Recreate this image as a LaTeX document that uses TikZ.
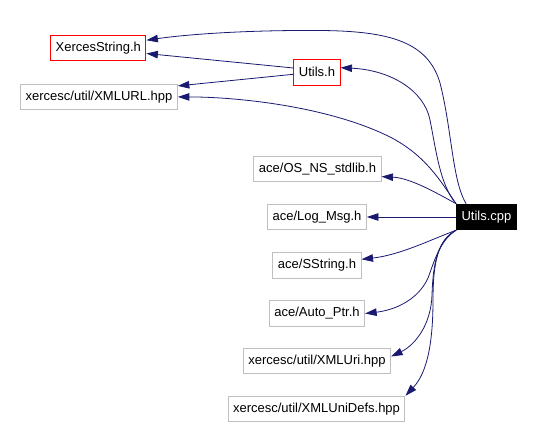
\documentclass[tikz,border=0pt]{standalone}
\usepackage{fontspec}
\setmainfont{Liberation Sans}
\usetikzlibrary{arrows.meta}
\definecolor{edgeblue}{HTML}{191970}
\definecolor{boxgray}{HTML}{BFBFBF}

\begin{document}
\begin{tikzpicture}[x=1pt,y=-1pt,
    every node/.style={font=\fontsize{13}{15}\selectfont, inner xsep=5pt, inner ysep=0pt, minimum height=25.5pt, line width=1pt},
    hdr/.style={draw=red, fill=white},
    inc/.style={draw=boxgray, fill=white},
    src/.style={draw=black, fill=black, text=white},
    dep/.style={draw=edgeblue, line width=0.8pt, -{Triangle[length=11.5pt,width=7.5pt]}}]

    \useasboundingbox (0,0) rectangle (534,427);

    %===========================
    % Files
    %===========================
    \node (cpp) at (486.5,217) [src]{Utils.cpp};

    \node (xstr) at (98.25,47.8) [hdr]{XercesString.h};
    \node (uh) at (317,72.3) [hdr]{Utils.h};
    \node (url) at (99,96.9) [inc]{xercesc/util/XMLURL.hpp};

    \node (os) at (317.5,169) [inc]{ace/OS\_NS\_stdlib.h};
    \node (log) at (317,217) [inc]{ace/Log\_Msg.h};
    \node (sstr) at (317,265.5) [inc]{ace/SString.h};
    \node (aptr) at (317,313.5) [inc]{ace/Auto\_Ptr.h};
    \node (uri) at (317,361) [inc]{xercesc/util/XMLUri.hpp};
    \node (unidefs) at (316.5,409) [inc]{xercesc/util/XMLUniDefs.hpp};

    %===========================
    % Includes
    %===========================

    % Upper Side
    \draw[dep] ([xshift=10pt]cpp.north west) .. controls (452,180) and (452,130) .. (440,83)
        .. controls (428,42) and (390,31) .. (320,30.5)
        .. controls (250,30) and (190,34) .. ([yshift=7.6pt]xstr.east);
    \draw[dep] (cpp.north west) .. controls (440,185) and (436,150) .. (430,120)
        .. controls (424,90) and (390,70) .. ([yshift=4.6pt]uh.east);
    \draw[dep] (cpp.north west) .. controls (440,180) and (425,155) .. (390,137)
        .. controls (330,107) and (240,97) .. (url.east);

    \draw[dep] ([yshift=4.3pt]uh.west) to ([yshift=-5.7pt]xstr.east);
    \draw[dep] ([yshift=-2pt]uh.west) to ([yshift=11pt]url.east);

    \draw[dep] (cpp.north west) .. controls (435,192) and (410,178) .. ([yshift=-7.6pt]os.east);
    \draw[dep] (cpp) to (log);

    % Lower Side
    \draw[dep] (cpp.south west) .. controls (430,240) and (400,255) .. ([yshift=6.2pt]sstr.east);
    \draw[dep] (cpp.south west) .. controls (440,240) and (434,262) .. (428,278)
        .. controls (418,300) and (395,310) .. (aptr.east);
    \draw[dep] (cpp.south west) .. controls (438,240) and (433,262) .. (432,295)
        .. controls (431,325) and (415,345) .. ([yshift=4.5pt]uri.east);
    \draw[dep] (cpp.south west) .. controls (438,240) and (433,262) .. (433,300)
        .. controls (433,350) and (425,375) .. (unidefs.north east);
\end{tikzpicture}
\end{document}
